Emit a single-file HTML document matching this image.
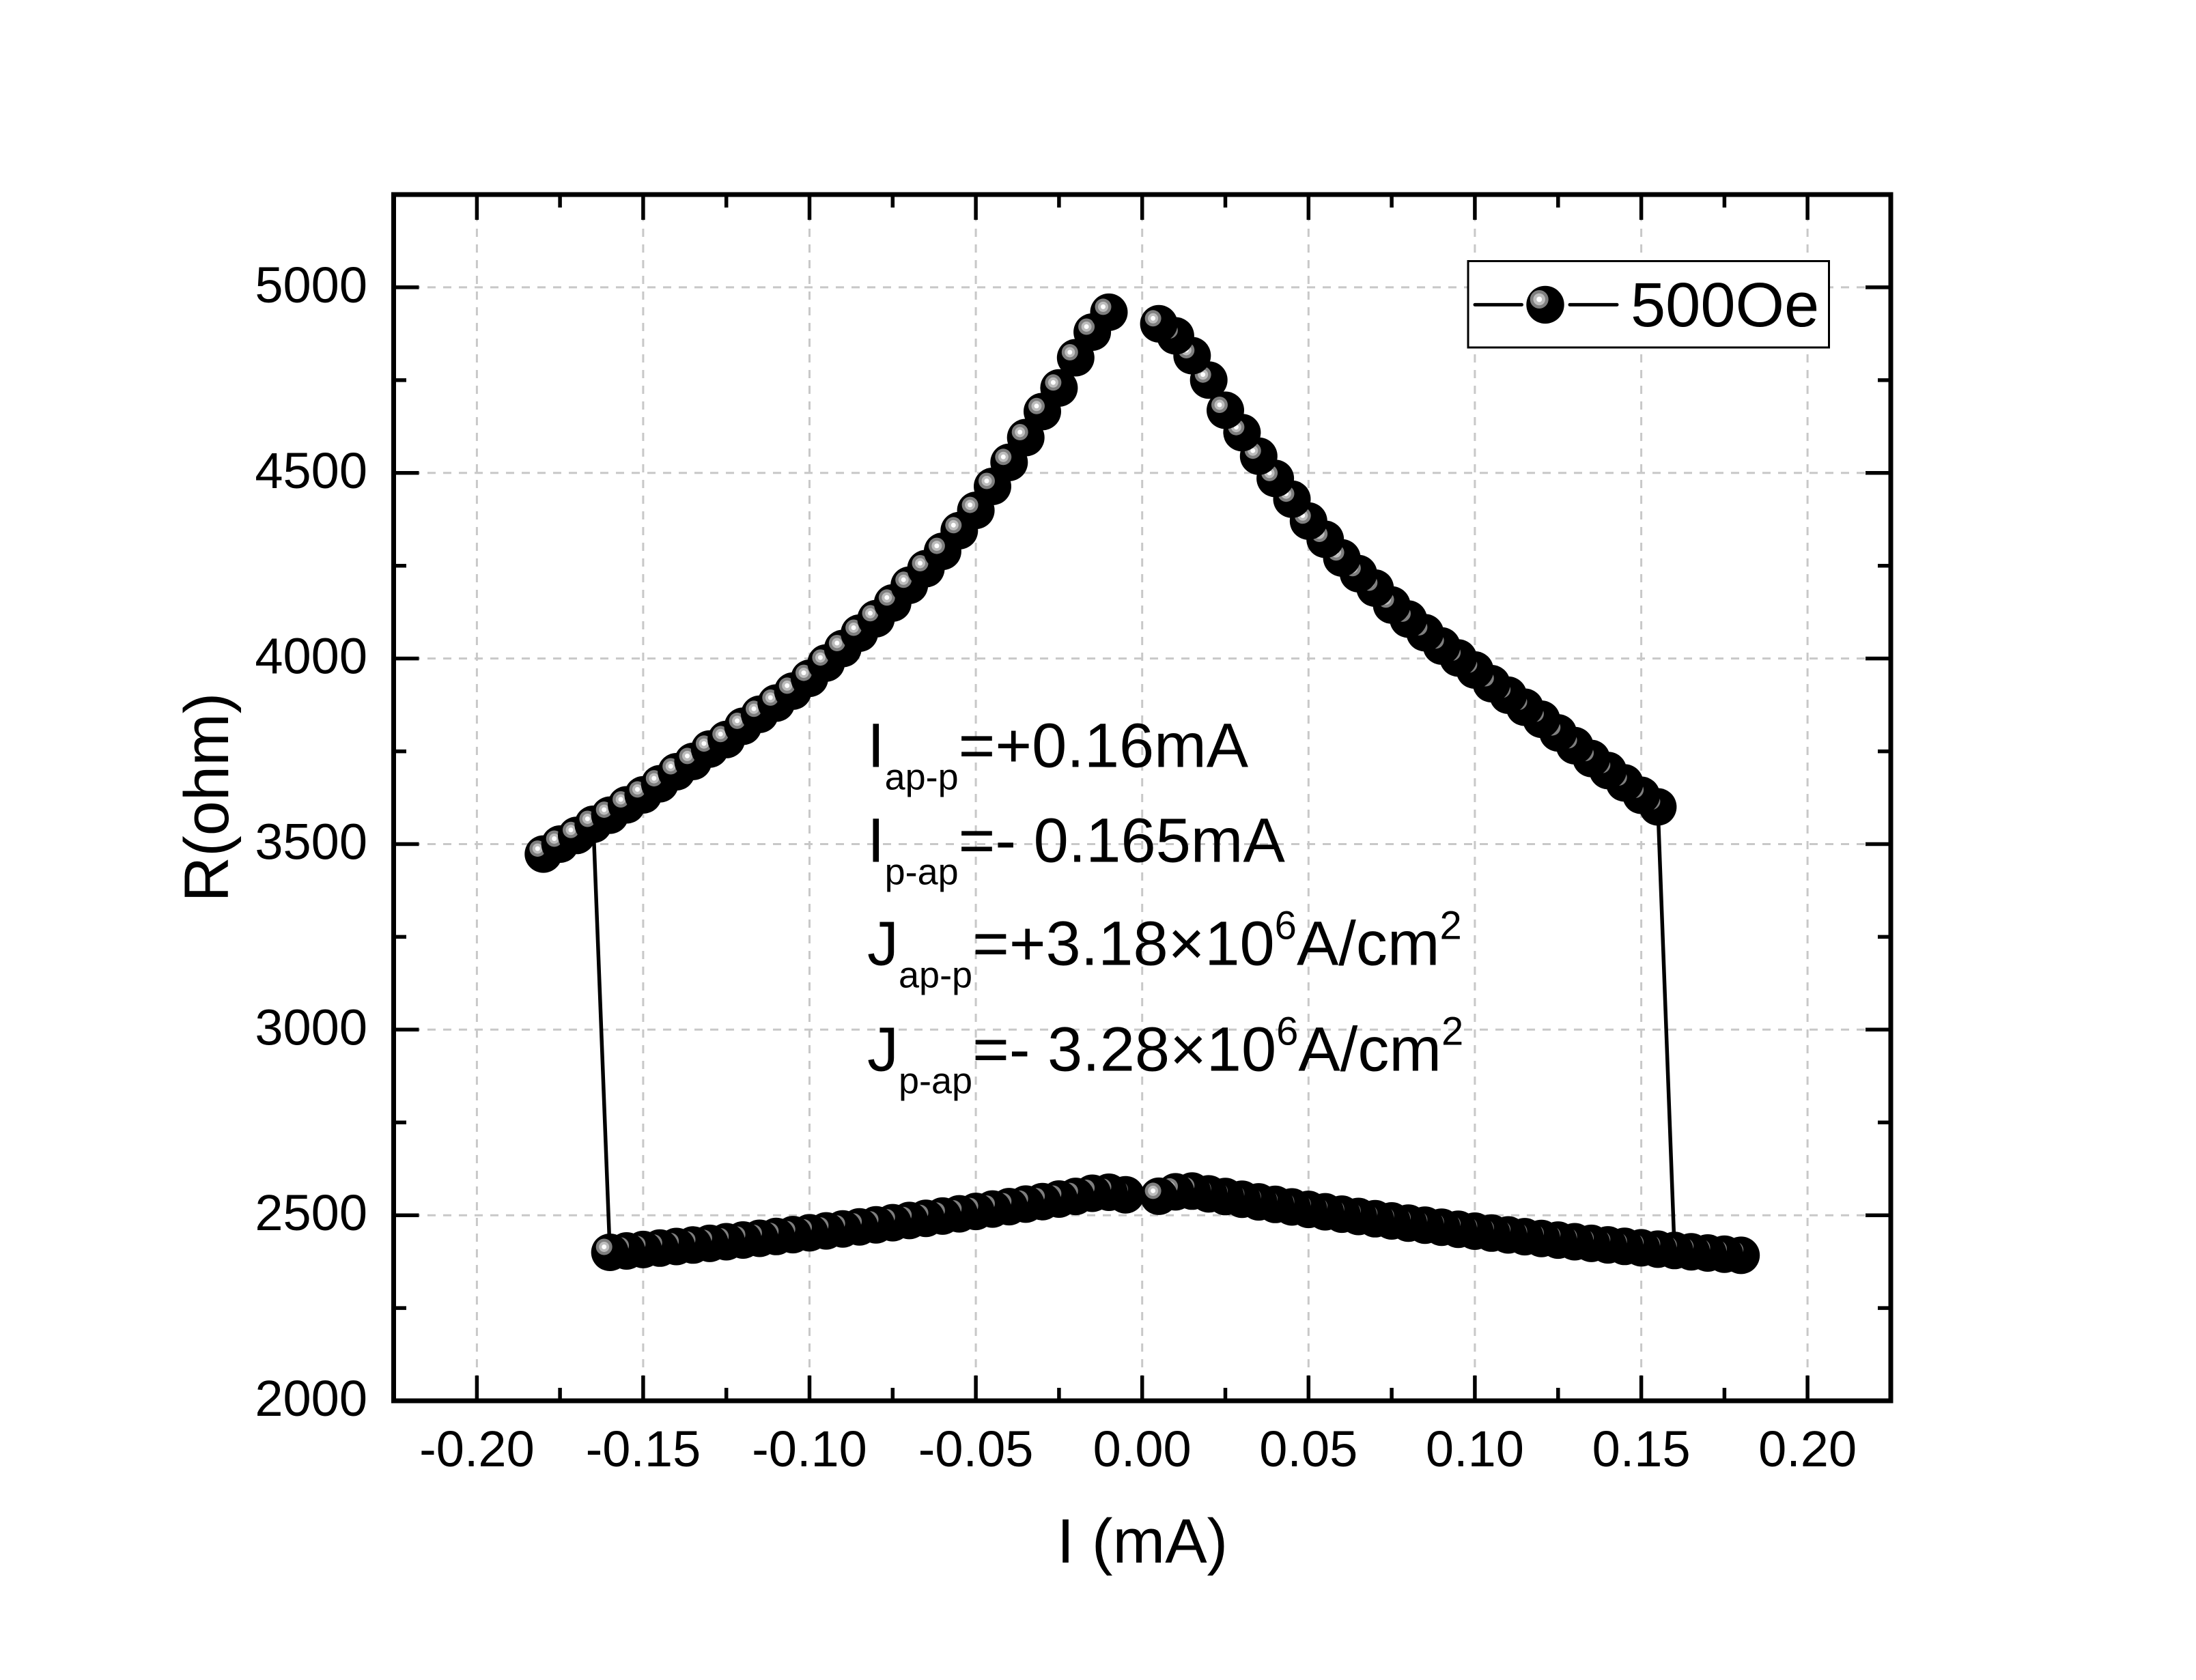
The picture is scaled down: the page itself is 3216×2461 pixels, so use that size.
<!DOCTYPE html>
<html>
<head>
<meta charset="utf-8">
<style>
html,body{margin:0;padding:0;background:#fff;}
svg{display:block;}
text{font-family:"Liberation Sans",Arial,sans-serif;fill:#000;}
</style>
</head>
<body>
<svg xmlns="http://www.w3.org/2000/svg" width="3216" height="2461" viewBox="0 0 3216 2461">
<defs>
<g id="mk">
<circle r="27.5" fill="#000"/>
<circle cx="-8.5" cy="-8" r="12" fill="#7f7f7f"/>
<circle cx="-8.5" cy="-8" r="7.5" fill="#bdbdbd"/>
<circle cx="-8.5" cy="-8" r="3.5" fill="#fff"/>
</g>
</defs>
<rect x="0" y="0" width="3216" height="2461" fill="#fff"/>
<g stroke="#c8c8c8" stroke-width="3" stroke-dasharray="12 11" fill="none">
<line x1="580" y1="1780.2" x2="2765" y2="1780.2"/>
<line x1="580" y1="1508.3" x2="2765" y2="1508.3"/>
<line x1="580" y1="1236.5" x2="2765" y2="1236.5"/>
<line x1="580" y1="964.6" x2="2765" y2="964.6"/>
<line x1="580" y1="692.8" x2="2765" y2="692.8"/>
<line x1="580" y1="420.9" x2="2765" y2="420.9"/>
<line x1="698.4" y1="289" x2="698.4" y2="2048"/>
<line x1="941.9" y1="289" x2="941.9" y2="2048"/>
<line x1="1185.5" y1="289" x2="1185.5" y2="2048"/>
<line x1="1429.1" y1="289" x2="1429.1" y2="2048"/>
<line x1="1672.7" y1="289" x2="1672.7" y2="2048"/>
<line x1="1916.3" y1="289" x2="1916.3" y2="2048"/>
<line x1="2159.9" y1="289" x2="2159.9" y2="2048"/>
<line x1="2403.6" y1="289" x2="2403.6" y2="2048"/>
<line x1="2647.1" y1="289" x2="2647.1" y2="2048"/>
</g>
<g stroke="#000" stroke-width="5.5" fill="none">
<line x1="868.9" y1="1207.5" x2="893.2" y2="1834.5"/>
<line x1="2427.9" y1="1182.0" x2="2452.3" y2="1831.8"/>
</g>
<g>
<use href="#mk" x="795.8" y="1251.1"/>
<use href="#mk" x="820.2" y="1236.5"/>
<use href="#mk" x="844.5" y="1223.8"/>
<use href="#mk" x="868.9" y="1207.5"/>
<use href="#mk" x="893.2" y="1194.1"/>
<use href="#mk" x="917.6" y="1179.0"/>
<use href="#mk" x="942.0" y="1164.4"/>
<use href="#mk" x="966.3" y="1148.1"/>
<use href="#mk" x="990.7" y="1130.5"/>
<use href="#mk" x="1015.0" y="1115.4"/>
<use href="#mk" x="1039.4" y="1097.2"/>
<use href="#mk" x="1063.7" y="1083.3"/>
<use href="#mk" x="1088.1" y="1063.9"/>
<use href="#mk" x="1112.5" y="1046.3"/>
<use href="#mk" x="1136.8" y="1029.9"/>
<use href="#mk" x="1161.2" y="1012.4"/>
<use href="#mk" x="1185.5" y="993.6"/>
<use href="#mk" x="1209.9" y="971.2"/>
<use href="#mk" x="1234.3" y="950.0"/>
<use href="#mk" x="1258.6" y="927.5"/>
<use href="#mk" x="1283.0" y="906.3"/>
<use href="#mk" x="1307.3" y="883.3"/>
<use href="#mk" x="1331.7" y="857.3"/>
<use href="#mk" x="1356.0" y="833.0"/>
<use href="#mk" x="1380.4" y="807.6"/>
<use href="#mk" x="1404.8" y="777.3"/>
<use href="#mk" x="1429.1" y="747.6"/>
<use href="#mk" x="1453.5" y="712.5"/>
<use href="#mk" x="1477.8" y="677.3"/>
<use href="#mk" x="1502.2" y="641.0"/>
<use href="#mk" x="1526.5" y="602.8"/>
<use href="#mk" x="1550.9" y="568.3"/>
<use href="#mk" x="1575.3" y="524.0"/>
<use href="#mk" x="1599.6" y="486.5"/>
<use href="#mk" x="1624.0" y="457.4"/>
</g>
<g>
<use href="#mk" x="2427.9" y="1182.0"/>
<use href="#mk" x="2403.6" y="1165.0"/>
<use href="#mk" x="2379.2" y="1146.9"/>
<use href="#mk" x="2354.8" y="1128.7"/>
<use href="#mk" x="2330.5" y="1111.1"/>
<use href="#mk" x="2306.1" y="1092.3"/>
<use href="#mk" x="2281.8" y="1073.6"/>
<use href="#mk" x="2257.4" y="1053.6"/>
<use href="#mk" x="2233.0" y="1036.0"/>
<use href="#mk" x="2208.7" y="1018.4"/>
<use href="#mk" x="2184.3" y="1001.5"/>
<use href="#mk" x="2159.9" y="981.5"/>
<use href="#mk" x="2135.6" y="963.9"/>
<use href="#mk" x="2111.2" y="946.3"/>
<use href="#mk" x="2086.9" y="926.9"/>
<use href="#mk" x="2062.5" y="906.9"/>
<use href="#mk" x="2038.1" y="886.3"/>
<use href="#mk" x="2013.8" y="861.5"/>
<use href="#mk" x="1989.4" y="840.3"/>
<use href="#mk" x="1965.1" y="817.3"/>
<use href="#mk" x="1940.7" y="790.0"/>
<use href="#mk" x="1916.3" y="763.3"/>
<use href="#mk" x="1892.0" y="731.2"/>
<use href="#mk" x="1867.6" y="700.9"/>
<use href="#mk" x="1843.3" y="668.2"/>
<use href="#mk" x="1818.9" y="633.7"/>
<use href="#mk" x="1794.5" y="601.0"/>
<use href="#mk" x="1770.2" y="556.7"/>
<use href="#mk" x="1745.8" y="521.0"/>
<use href="#mk" x="1721.4" y="492"/>
<use href="#mk" x="1697.1" y="474.3"/>
</g>
<g>
<use href="#mk" x="1648.4" y="1750.2"/>
<use href="#mk" x="1624.0" y="1746.5"/>
<use href="#mk" x="1599.6" y="1748.0"/>
<use href="#mk" x="1575.3" y="1752.6"/>
<use href="#mk" x="1550.9" y="1756.5"/>
<use href="#mk" x="1526.6" y="1760.2"/>
<use href="#mk" x="1502.2" y="1763.9"/>
<use href="#mk" x="1477.8" y="1767.6"/>
<use href="#mk" x="1453.5" y="1771.1"/>
<use href="#mk" x="1429.1" y="1774.6"/>
<use href="#mk" x="1404.8" y="1778.1"/>
<use href="#mk" x="1380.4" y="1781.4"/>
<use href="#mk" x="1356.0" y="1784.7"/>
<use href="#mk" x="1331.7" y="1787.9"/>
<use href="#mk" x="1307.3" y="1791.1"/>
<use href="#mk" x="1283.0" y="1794.2"/>
<use href="#mk" x="1258.6" y="1797.2"/>
<use href="#mk" x="1234.2" y="1800.2"/>
<use href="#mk" x="1209.9" y="1803.1"/>
<use href="#mk" x="1185.5" y="1805.9"/>
<use href="#mk" x="1161.2" y="1808.6"/>
<use href="#mk" x="1136.8" y="1811.3"/>
<use href="#mk" x="1112.4" y="1814.0"/>
<use href="#mk" x="1088.1" y="1816.5"/>
<use href="#mk" x="1063.7" y="1819.0"/>
<use href="#mk" x="1039.4" y="1821.4"/>
<use href="#mk" x="1015.0" y="1823.8"/>
<use href="#mk" x="990.6" y="1826.0"/>
<use href="#mk" x="966.3" y="1828.3"/>
<use href="#mk" x="941.9" y="1830.4"/>
<use href="#mk" x="917.6" y="1832.5"/>
<use href="#mk" x="893.2" y="1834.5"/>
</g>
<g>
<use href="#mk" x="2549.7" y="1838.9"/>
<use href="#mk" x="2525.4" y="1837.2"/>
<use href="#mk" x="2501.0" y="1835.5"/>
<use href="#mk" x="2476.7" y="1833.7"/>
<use href="#mk" x="2452.3" y="1831.8"/>
<use href="#mk" x="2427.9" y="1829.9"/>
<use href="#mk" x="2403.6" y="1827.9"/>
<use href="#mk" x="2379.2" y="1825.8"/>
<use href="#mk" x="2354.8" y="1823.6"/>
<use href="#mk" x="2330.5" y="1821.4"/>
<use href="#mk" x="2306.1" y="1819.0"/>
<use href="#mk" x="2281.8" y="1816.6"/>
<use href="#mk" x="2257.4" y="1814.2"/>
<use href="#mk" x="2233.0" y="1811.6"/>
<use href="#mk" x="2208.7" y="1809.0"/>
<use href="#mk" x="2184.3" y="1806.3"/>
<use href="#mk" x="2159.9" y="1803.5"/>
<use href="#mk" x="2135.6" y="1800.7"/>
<use href="#mk" x="2111.2" y="1797.7"/>
<use href="#mk" x="2086.9" y="1794.7"/>
<use href="#mk" x="2062.5" y="1791.7"/>
<use href="#mk" x="2038.1" y="1788.5"/>
<use href="#mk" x="2013.8" y="1785.3"/>
<use href="#mk" x="1989.4" y="1782.0"/>
<use href="#mk" x="1965.1" y="1778.6"/>
<use href="#mk" x="1940.7" y="1775.1"/>
<use href="#mk" x="1916.3" y="1771.6"/>
<use href="#mk" x="1892.0" y="1768.0"/>
<use href="#mk" x="1867.6" y="1764.3"/>
<use href="#mk" x="1843.3" y="1760.6"/>
<use href="#mk" x="1818.9" y="1756.7"/>
<use href="#mk" x="1794.5" y="1752.8"/>
<use href="#mk" x="1770.2" y="1748.9"/>
<use href="#mk" x="1745.8" y="1744.8"/>
<use href="#mk" x="1721.5" y="1745.9"/>
<use href="#mk" x="1697.1" y="1752.4"/>
</g>
<rect x="2150" y="382.5" width="528.5" height="126.5" fill="#fff" stroke="#000" stroke-width="3"/>
<g stroke="#000" stroke-width="5" stroke-linecap="round">
<line x1="2160" y1="446.4" x2="2228.5" y2="446.4"/>
<line x1="2299" y1="446.4" x2="2368" y2="446.4"/>
</g>
<circle cx="2263" cy="446.4" r="27.7" fill="#000"/>
<circle cx="2254.2" cy="438.5" r="13.5" fill="#7f7f7f"/>
<circle cx="2254.2" cy="438.5" r="8.8" fill="#bdbdbd"/>
<circle cx="2254.2" cy="438.5" r="4" fill="#fff"/>
<text x="2388" y="478" font-size="92">500Oe</text>
<rect x="576.5" y="285" width="2192.5" height="1767" fill="none" stroke="#000" stroke-width="7"/>
<g stroke="#000" stroke-width="5.5" fill="none">
<path d="M698.4 2052V2015M941.9 2052V2015M1185.5 2052V2015M1429.1 2052V2015M1672.7 2052V2015M1916.3 2052V2015M2159.9 2052V2015M2403.6 2052V2015M2647.1 2052V2015"/>
<path d="M820.1 2052V2033M1063.7 2052V2033M1307.3 2052V2033M1550.9 2052V2033M1794.5 2052V2033M2038.1 2052V2033M2281.8 2052V2033M2525.4 2052V2033"/>
<path d="M698.4 285V322M941.9 285V322M1185.5 285V322M1429.1 285V322M1672.7 285V322M1916.3 285V322M2159.9 285V322M2403.6 285V322M2647.1 285V322"/>
<path d="M820.1 285V304M1063.7 285V304M1307.3 285V304M1550.9 285V304M1794.5 285V304M2038.1 285V304M2281.8 285V304M2525.4 285V304"/>
<path d="M576.5 1780.2H613.5M576.5 1508.3H613.5M576.5 1236.5H613.5M576.5 964.6H613.5M576.5 692.8H613.5M576.5 420.9H613.5"/>
<path d="M576.5 1916.1H595M576.5 1644.2H595M576.5 1372.4H595M576.5 1100.6H595M576.5 828.7H595M576.5 556.9H595"/>
<path d="M2769 1780.2H2732M2769 1508.3H2732M2769 1236.5H2732M2769 964.6H2732M2769 692.8H2732M2769 420.9H2732"/>
<path d="M2769 1916.1H2750M2769 1644.2H2750M2769 1372.4H2750M2769 1100.6H2750M2769 828.7H2750M2769 556.9H2750"/>
</g>
<g font-size="74" text-anchor="end">
<text x="538" y="2074">2000</text>
<text x="538" y="1802.2">2500</text>
<text x="538" y="1530.3">3000</text>
<text x="538" y="1258.5">3500</text>
<text x="538" y="986.6">4000</text>
<text x="538" y="714.8">4500</text>
<text x="538" y="442.9">5000</text>
</g>
<g font-size="74" text-anchor="middle">
<text x="698.4" y="2148">-0.20</text>
<text x="941.9" y="2148">-0.15</text>
<text x="1185.5" y="2148">-0.10</text>
<text x="1429.1" y="2148">-0.05</text>
<text x="1672.7" y="2148">0.00</text>
<text x="1916.3" y="2148">0.05</text>
<text x="2159.9" y="2148">0.10</text>
<text x="2403.6" y="2148">0.15</text>
<text x="2647.1" y="2148">0.20</text>
</g>
<text x="1673" y="2289" font-size="92" text-anchor="middle">I (mA)</text>
<text transform="translate(334,1168) rotate(-90)" font-size="92" text-anchor="middle">R(ohm)</text>
<g font-size="92">
<text x="1270" y="1123.6">I<tspan font-size="54" dy="33">ap-p</tspan><tspan dy="-33">=+0.16mA</tspan></text>
<text x="1270" y="1262.5">I<tspan font-size="54" dy="33">p-ap</tspan><tspan dy="-33">=- 0.165mA</tspan></text>
<text x="1270" y="1413.5">J<tspan font-size="54" dy="33">ap-p</tspan><tspan dy="-33">=+3.18×10</tspan><tspan font-size="58" dy="-38">6</tspan><tspan dy="38">A/cm</tspan><tspan font-size="58" dy="-38">2</tspan></text>
<text x="1270" y="1568.5">J<tspan font-size="54" dy="33">p-ap</tspan><tspan dy="-33">=- 3.28×10</tspan><tspan font-size="58" dy="-38">6</tspan><tspan dy="38">A/cm</tspan><tspan font-size="58" dy="-38">2</tspan></text>
</g>
</svg>
</body>
</html>
